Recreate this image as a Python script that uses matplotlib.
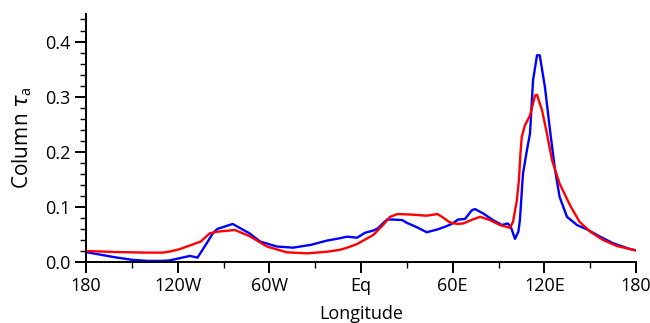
import matplotlib
matplotlib.use("Agg")
import matplotlib.pyplot as plt
from matplotlib.ticker import MultipleLocator

plt.rcParams['font.family'] = ['Open Sans', 'DejaVu Sans']
plt.rcParams['mathtext.fontset'] = 'custom'
plt.rcParams['mathtext.rm'] = 'Open Sans'
plt.rcParams['mathtext.it'] = 'DejaVu Sans:italic'

# blue curve
lon_blue = [-180, -162, -150, -140, -130, -125, -118.5, -112, -107, -101, -97, -94,
            -84, -73, -66, -55, -44.5, -33, -22, -14, -9, -2.6, 2.6, 8, 11, 17, 21,
            27, 30, 36.6, 43, 50, 56, 60, 63.5, 68, 72.6, 74.6, 80, 86.4, 92.3, 96,
            98, 100.8, 103, 104, 106, 108.6, 110.6, 112.6, 115.2, 117, 120.4, 123.7,
            127, 130, 134.8, 141.4, 148, 156.4, 165, 176, 180]
tau_blue = [0.018, 0.009, 0.004, 0.002, 0.002, 0.003, 0.007, 0.011, 0.008, 0.034, 0.052, 0.060,
            0.069, 0.052, 0.037, 0.028, 0.026, 0.031, 0.039, 0.043, 0.046, 0.044, 0.053, 0.057, 0.061, 0.077, 0.077,
            0.076, 0.071, 0.063, 0.054, 0.059, 0.065, 0.070, 0.077, 0.078, 0.094, 0.096, 0.088, 0.076, 0.067, 0.070,
            0.064, 0.042, 0.055, 0.076, 0.160, 0.203, 0.233, 0.330, 0.375, 0.375, 0.317, 0.239,
            0.167, 0.118, 0.082, 0.067, 0.059, 0.046, 0.034, 0.0235, 0.021]

# red curve
lon_red = [-180, -160, -140, -130, -125, -118.5, -110, -105, -99, -94, -82.5, -73,
           -61.5, -48.5, -35, -22, -14, -9, -2.6, 8, 14.4, 19, 24, 33, 43, 50, 53,
           58, 63, 67, 73, 78, 84.4, 91, 97.5, 99.5, 102, 103.4, 104.3, 105.2, 107.3, 110.6,
           113.9, 115.2, 118.5, 121.7, 125, 130, 136.8, 143, 150, 158.4, 167.5, 176, 180]
tau_red = [0.020, 0.018, 0.017, 0.017, 0.019, 0.0235, 0.032, 0.037, 0.052, 0.055, 0.058, 0.047,
           0.028, 0.0175, 0.0157, 0.0187, 0.022, 0.026, 0.0325, 0.049, 0.067, 0.082, 0.087, 0.086, 0.084, 0.087, 0.082,
           0.072, 0.069, 0.070, 0.077, 0.082, 0.076, 0.067, 0.062, 0.073, 0.112, 0.150, 0.195, 0.227, 0.248, 0.266,
           0.302, 0.3035, 0.275, 0.233, 0.185, 0.142, 0.103, 0.073, 0.055, 0.040, 0.029, 0.0235, 0.021]

xticks = [-180, -120, -60, 0, 60, 120, 180]
xticklabels = ['180', '120W', '60W', 'Eq', '60E', '120E', '180']

fig = plt.figure(figsize=(6.5, 3.23), dpi=100)
ax = fig.add_axes([0.1323, 0.1889, 0.8462, 0.7678])

ax.plot(lon_blue, tau_blue, color='#0000ff', linewidth=1.7)
ax.plot(lon_red, tau_red, color='#ff0000', linewidth=1.7)

ax.set_xlim(-180, 180)
ax.set_ylim(0, 0.45)
ax.set_xticks(xticks)
ax.set_xticklabels(xticklabels)
ax.xaxis.set_minor_locator(MultipleLocator(30))
ax.set_yticks([0.0, 0.1, 0.2, 0.3, 0.4])
ax.set_yticklabels(['0.0', '0.1', '0.2', '0.3', '0.4'])
ax.yaxis.set_minor_locator(MultipleLocator(0.02))

for s in ['top', 'right']:
    ax.spines[s].set_visible(False)
for s in ['left', 'bottom']:
    ax.spines[s].set_linewidth(1.4)

ax.tick_params(which='major', direction='out', length=8, width=1.4, labelsize=13, pad=3)
ax.tick_params(which='minor', direction='out', length=4.5, width=1.0)

ax.set_xlabel('Longitude', fontsize=13, labelpad=7)
ax.set_ylabel(r'Column $\tau_\mathrm{a}$', fontsize=15, labelpad=8)

fig.savefig('out.png', dpi=100)
